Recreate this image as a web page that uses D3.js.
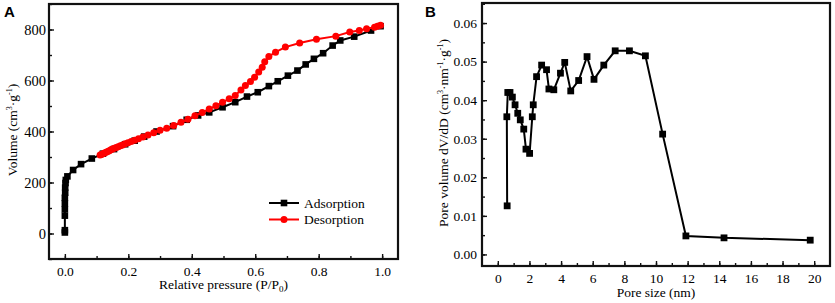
<!DOCTYPE html>
<html>
<head>
<meta charset="utf-8">
<script src="https://cdn.jsdelivr.net/npm/d3@7"></script>
<style>
  body { margin: 0; background: #fff; }
  svg text { font-family: "Liberation Serif", "Times New Roman", serif; fill: #000; }
  .axis path { display: none; }
  .axis line { stroke: #111; stroke-width: 1.4; }
  .axis text { font-size: 13.5px; }
  .ya text { font-size: 14.5px; }
  .panel { font-family: "Liberation Sans", Arial, sans-serif !important; font-weight: bold; font-size: 15px; }
</style>
</head>
<body>
<div id="chart"></div>
<script>
// panel A: N2 isotherm
const adsP = [0.000, 0.000, 0.000, 0.000, 0.000, 0.000, 0.001, 0.001, 0.002, 0.003,
  0.008, 0.026, 0.051, 0.085, 0.120, 0.155, 0.190, 0.220, 0.250, 0.289, 0.341, 0.384,
  0.420, 0.455, 0.497, 0.537, 0.574, 0.608, 0.643, 0.671, 0.703, 0.733, 0.759, 0.785,
  0.814, 0.844, 0.868, 0.912, 0.965, 0.995];
const adsV = [4, 13, 70, 95, 118, 140, 160, 180, 198, 210,
  224, 249, 272, 294, 313, 331, 350, 364, 380, 400, 421, 446,
  463, 475, 495, 515, 537, 554, 578, 597, 619, 639, 663, 685,
  707, 737, 757, 772, 796, 813];
const desP = [0.995, 0.985, 0.976, 0.951, 0.928, 0.898, 0.854, 0.793, 0.740, 0.695,
  0.664, 0.643, 0.630, 0.622, 0.611, 0.598, 0.585, 0.569, 0.555, 0.537, 0.518, 0.497,
  0.476, 0.455, 0.433, 0.410, 0.388, 0.366, 0.343, 0.321, 0.300, 0.280, 0.262, 0.246,
  0.232, 0.220, 0.209, 0.199, 0.190, 0.182, 0.175, 0.168, 0.162, 0.156, 0.150, 0.145,
  0.140, 0.135, 0.130, 0.125, 0.120, 0.115, 0.111];
const desV = [817, 813, 809, 803, 796, 790, 774, 762, 747, 731,
  711, 694, 674, 652, 633, 613, 596, 580, 563, 541, 528, 515,
  501, 488, 475, 462, 448, 436, 424, 413, 405, 395, 386, 378,
  372, 366, 361, 356, 352, 347, 344, 340, 337, 334, 331, 328,
  325, 322, 319, 316, 313, 310, 308];

// panel B: pore size distribution
const poreSize = [0.59, 0.57, 0.63, 0.77, 0.92, 1.09, 1.26, 1.42, 1.64, 1.78, 2.01, 2.18,
  2.24, 2.45, 2.77, 3.08, 3.23, 3.54, 3.96, 4.23, 4.61, 5.11, 5.64, 6.08, 6.70, 7.42,
  8.32, 9.33, 10.42, 11.89, 14.30, 19.75];
const poreVol = [0.0126, 0.0357, 0.0420, 0.0420, 0.0408, 0.0388, 0.0366, 0.0349, 0.0325,
  0.0273, 0.0262, 0.0357, 0.0388, 0.0461, 0.0491, 0.0479, 0.0429, 0.0427, 0.0470, 0.0498,
  0.0424, 0.0451, 0.0513, 0.0454, 0.0491, 0.0528, 0.0528, 0.0515, 0.0312, 0.0048, 0.0043,
  0.0037];

const aXTicks = [0, 0.2, 0.4, 0.6, 0.8, 1.0];
const aYTicks = [0, 200, 400, 600, 800];
const bXTicks = [0, 2, 4, 6, 8, 10, 12, 14, 16, 18, 20];
const bYTicks = [0, 0.01, 0.02, 0.03, 0.04, 0.05, 0.06];

const svg = d3.select("#chart").append("svg")
  .attr("width", 835).attr("height", 303);

function frame(g, w, h) {
  g.append("rect").attr("width", w).attr("height", h)
    .attr("fill", "none").attr("stroke", "#111").attr("stroke-width", 2.2);
}

// ---------- A ----------
const A = { left: 49, top: 4, w: 349, h: 255 };
const gA = svg.append("g").attr("transform", `translate(${A.left},${A.top})`);
const xA = d3.scaleLinear().domain([-0.05, 1.05]).range([0, A.w]);
const yA = d3.scaleLinear().domain([-100, 900]).range([A.h, 0]);

gA.append("g").attr("class", "axis").attr("transform", `translate(0,${A.h})`)
  .call(d3.axisBottom(xA).tickValues(d3.range(0, 1.01, 0.1)).tickSize(-3).tickFormat(""));
gA.append("g").attr("class", "axis").attr("transform", `translate(0,${A.h})`)
  .call(d3.axisBottom(xA).tickValues(aXTicks).tickSize(-5).tickPadding(7).tickFormat(d3.format(".1f")));
gA.append("g").attr("class", "axis")
  .call(d3.axisLeft(yA).tickValues(d3.range(-100, 901, 100)).tickSize(-3).tickFormat(""));
gA.append("g").attr("class", "axis ya")
  .call(d3.axisLeft(yA).tickValues(aYTicks).tickSize(-5).tickPadding(3));

const adsData = adsP.map((p, i) => [p, adsV[i]]);
const desData = desP.map((p, i) => [p, desV[i]]);
const lineA = d3.line().x(d => xA(d[0])).y(d => yA(d[1]));

gA.append("path").datum(adsData).attr("d", lineA)
  .attr("fill", "none").attr("stroke", "#000").attr("stroke-width", 2);
gA.selectAll(".ads").data(adsData).enter().append("rect")
  .attr("x", d => xA(d[0]) - 3.3).attr("y", d => yA(d[1]) - 3.3)
  .attr("width", 6.6).attr("height", 6.6).attr("fill", "#000");
gA.append("path").datum(desData).attr("d", lineA)
  .attr("fill", "none").attr("stroke", "#f00").attr("stroke-width", 2);
gA.selectAll(".des").data(desData).enter().append("circle")
  .attr("cx", d => xA(d[0])).attr("cy", d => yA(d[1])).attr("r", 3.5).attr("fill", "#f00");

frame(gA, A.w, A.h);

// legend
const leg = svg.append("g");
[["Adsorption", "#000", "sq"], ["Desorption", "#f00", "ci"]].forEach((s, i) => {
  const y = 203 + i * 16.5;
  leg.append("line").attr("x1", 269).attr("x2", 299).attr("y1", y).attr("y2", y)
    .attr("stroke", s[1]).attr("stroke-width", 2);
  if (s[2] === "sq") leg.append("rect").attr("x", 280.7).attr("y", y - 3.3).attr("width", 6.6).attr("height", 6.6).attr("fill", s[1]);
  else leg.append("circle").attr("cx", 284).attr("cy", y).attr("r", 3.5).attr("fill", s[1]);
  leg.append("text").attr("x", 304).attr("y", y + 4.5).attr("font-size", 13.5).text(s[0]);
});

const tA = svg.append("text").attr("x", A.left + xA(0.5)).attr("y", 289)
  .attr("text-anchor", "middle").attr("font-size", 13.5);
tA.append("tspan").text("Relative pressure (P/P");
tA.append("tspan").attr("font-size", 9).attr("dy", 3).text("0");
tA.append("tspan").attr("dy", -3).text(")");

const yTA = svg.append("text").attr("transform", "translate(17,130) rotate(-90)")
  .attr("text-anchor", "middle").attr("font-size", 13.5);
yTA.append("tspan").text("Volume (cm");
yTA.append("tspan").attr("font-size", 8).attr("dy", -5).text("3");
yTA.append("tspan").attr("dy", 5).text("·g");
yTA.append("tspan").attr("font-size", 8).attr("dy", -5).text("-1");
yTA.append("tspan").attr("dy", 5).text(")");

svg.append("text").attr("class", "panel").attr("x", 4).attr("y", 17).text("A");

// ---------- B ----------
const B = { left: 482, top: 3, w: 348, h: 263 };
const gB = svg.append("g").attr("transform", `translate(${B.left},${B.top})`);
const xB = d3.scaleLinear().domain([-1, 21]).range([0, B.w]);
const yB = d3.scaleLinear().domain([-0.003, 0.0652]).range([B.h, 0]);

gB.append("g").attr("class", "axis").attr("transform", `translate(0,${B.h})`)
  .call(d3.axisBottom(xB).tickValues(d3.range(0, 21, 1)).tickSize(-3).tickFormat(""));
gB.append("g").attr("class", "axis").attr("transform", `translate(0,${B.h})`)
  .call(d3.axisBottom(xB).tickValues(bXTicks).tickSize(-5).tickPadding(7));
gB.append("g").attr("class", "axis")
  .call(d3.axisLeft(yB).tickValues(d3.range(0, 0.0651, 0.005)).tickSize(-3).tickFormat(""));
gB.append("g").attr("class", "axis")
  .call(d3.axisLeft(yB).tickValues(bYTicks).tickSize(-5).tickPadding(5).tickFormat(d3.format(".2f")));

const poreData = poreSize.map((s, i) => [s, poreVol[i]]);
gB.append("path").datum(poreData)
  .attr("d", d3.line().x(d => xB(d[0])).y(d => yB(d[1])))
  .attr("fill", "none").attr("stroke", "#000").attr("stroke-width", 2);
gB.selectAll(".pore").data(poreData).enter().append("rect")
  .attr("x", d => xB(d[0]) - 3.4).attr("y", d => yB(d[1]) - 3.4)
  .attr("width", 6.8).attr("height", 6.8).attr("fill", "#000");

frame(gB, B.w, B.h);

svg.append("text").attr("x", B.left + xB(10)).attr("y", 297)
  .attr("text-anchor", "middle").attr("font-size", 13.5).text("Pore size (nm)");

const yTB = svg.append("text").attr("transform", "translate(448,133) rotate(-90)")
  .attr("text-anchor", "middle").attr("font-size", 13.5);
yTB.append("tspan").text("Pore volume dV/dD (cm");
yTB.append("tspan").attr("font-size", 8).attr("dy", -5).text("3");
yTB.append("tspan").attr("dy", 5).text("·nm");
yTB.append("tspan").attr("font-size", 8).attr("dy", -5).text("-1");
yTB.append("tspan").attr("dy", 5).text("·g");
yTB.append("tspan").attr("font-size", 8).attr("dy", -5).text("-1");
yTB.append("tspan").attr("dy", 5).text(")");

svg.append("text").attr("class", "panel").attr("x", 425).attr("y", 17).text("B");
</script>
</body>
</html>
